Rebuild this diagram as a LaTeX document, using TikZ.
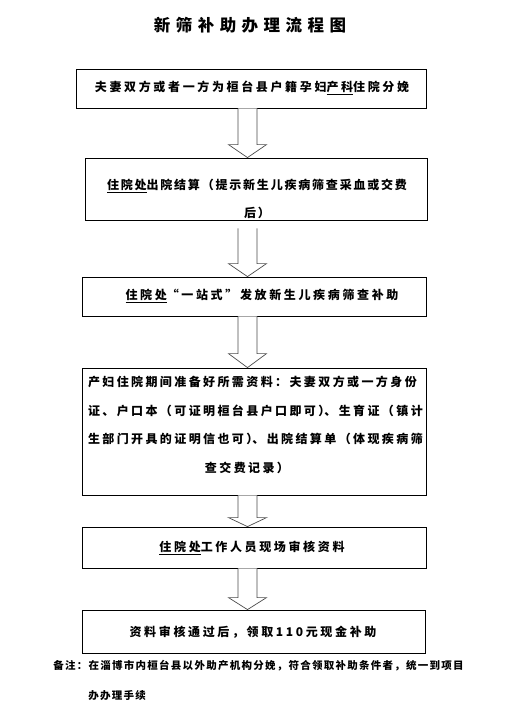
\documentclass[tikz,border=0pt]{standalone}
\usepackage{fontspec}
\usetikzlibrary{calc}
\newfontfamily\cjkwide[LetterSpace=22]{Noto Sans CJK SC}
\newfontfamily\cjkmid[LetterSpace=15]{Noto Sans CJK SC}
\newfontfamily\cjkfour[LetterSpace=20]{Noto Sans CJK SC}
\newfontfamily\cjknote[LetterSpace=12]{Noto Sans CJK SC}
\newfontfamily\cjktitle[LetterSpace=33]{Noto Sans CJK SC}

\begin{document}
\begin{tikzpicture}[x=1pt,y=-1pt,line width=0.8pt,
  box/.style={draw,rectangle,inner sep=0pt},
  txt/.style={inner sep=0pt,font=\cjkwide\bfseries\fontsize{12}{14}\selectfont},
  txtmid/.style={inner sep=0pt,font=\cjkmid\bfseries\fontsize{12}{28.5}\selectfont},
  notetxt/.style={inner sep=0pt,anchor=west,font=\cjknote\bfseries\fontsize{10.5}{12}\selectfont},
  blk/.style={draw=black!70,fill=white,line width=0.7pt,line join=miter}]
\useasboundingbox (0,0) rectangle (507,724);
% 空心箭头，#1 = 箭头高度，#2 = 起点，#3 = 箭头尖
\newcommand{\blkarrow}[3][13]{
  \draw[blk] ($(#2)+(-9.5,0)$) -- ($(#3)+(-9.5,-#1)$) -- ($(#3)+(-19,-#1)$) -- (#3)
    -- ($(#3)+(19,-#1)$) -- ($(#3)+(9.5,-#1)$) -- ($(#2)+(9.5,0)$);
}
% ---------- 标题 ----------
\node[inner sep=0pt,font=\cjktitle\bfseries\fontsize{16.5}{18}\selectfont] (title) at (250,25) {新筛补助办理流程图};
% ---------- 流程框 ----------
\node[box,minimum width=350pt,minimum height=39pt] (b1) at (251,88.5) {};
\node[box,minimum width=342pt,minimum height=62pt] (b2) at (256,189) {};
\node[box,minimum width=344pt,minimum height=39pt] (b3) at (254,296.5) {};
\node[box,minimum width=344pt,minimum height=127pt] (b4) at (254,431.5) {};
\node[box,minimum width=344pt,minimum height=41pt] (b5) at (254,547.5) {};
\node[box,minimum width=343pt,minimum height=43pt] (b6) at (253.5,631.5) {};
% 框内文字
\node[txt] (t1) at (252,88) {夫妻双方或者一方为桓台县户籍孕妇\underline{产科}住院分娩};
\node[txtmid,text width=310pt,align=center] (t2) at (257,199) {\underline{住院处}出院结算（提示新生儿疾病筛查采血或交费\\后）};
\node[txt] (t3) at (262,296) {\underline{住院处}“一站式”发放新生儿疾病筛查补助};
\node[txtmid,font=\cjkfour\bfseries\fontsize{12}{28.5}\selectfont,text width=330pt,align=left] (t4) at (253,425)
  {产妇住院期间准备好所需资料：夫妻双方或一方身份\\证、户口本（可证明桓台县户口即可）\kern-6pt、生育证（镇计\\生部门开具的证明信也可）\kern-6pt、出院结算单（体现疾病筛\\\makebox[318pt]{查交费记录）}};
\node[txt] (t5) at (252,548) {\underline{住院处}工作人员现场审核资料};
\node[txt] (t6) at (253,632) {资料审核通过后，领取110元现金补助};
% ---------- 箭头 ----------
\coordinate (ax) at (247.5,0);
\coordinate (a2) at ($(b2.south -| ax)+(0,8)$);
\blkarrow{b1.south -| ax}{b2.north -| ax}
\blkarrow{a2}{b3.north -| ax}
\blkarrow[14]{b3.south -| ax}{b4.north -| ax}
\blkarrow[9]{b4.south -| ax}{b5.north -| ax}
\blkarrow[12]{b5.south -| ax}{b6.north -| ax}
% ---------- 备注 ----------
\node[notetxt] (note) at (53,666) {备注：在淄博市内桓台县以外助产机构分娩，符合领取补助条件者，统一到项目};
\node[notetxt] (note2) at (88,696) {办办理手续};
\end{tikzpicture}
\end{document}
